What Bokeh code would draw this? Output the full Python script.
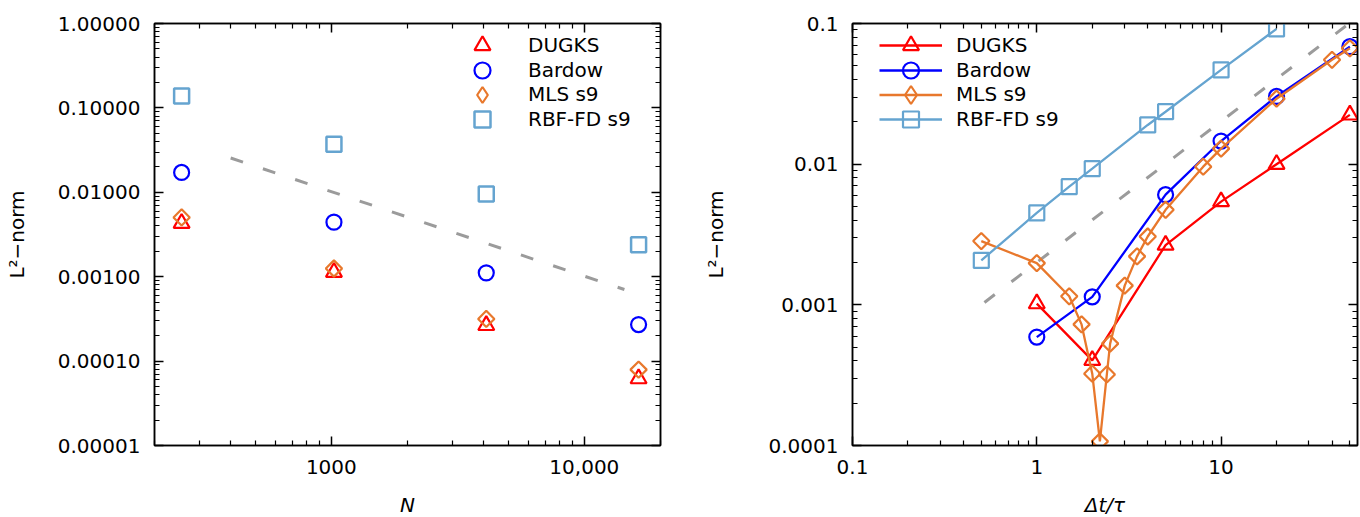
import numpy as np
from bokeh.plotting import figure
from bokeh.models import (FixedTicker, CustomJSTickFormatter, LogAxis, Legend,
                          LegendItem, Range1d)
from bokeh.layouts import row
from bokeh.embed import file_html
from bokeh.resources import INLINE

# ---------------- data: left panel (error vs N) ----------------
N = [256, 1024, 4096, 16384]
left_dugks = [0.0043, 0.00113, 0.000265, 0.000062]
left_bardow = [0.0172, 0.00443, 0.00111, 0.000271]
left_mls = [0.00504, 0.00125, 0.000316, 0.0000792]
left_rbf = [0.138, 0.037, 0.00955, 0.00239]
left_ref_x = [400, 14400]
left_ref_y = [0.0255, 0.000705]

# ---------------- data: right panel (error vs dt/tau) ----------------
dugks_dt = [1, 2, 5, 10, 20, 50]
dugks_err = [0.00102, 0.000403, 0.00266, 0.00542, 0.00998, 0.0224]
bardow_dt = [1, 2, 5, 10, 20, 50]
bardow_err = [0.00059, 0.00114, 0.00607, 0.0146, 0.0303, 0.0685]
mls_dt = [0.5, 1, 1.5, 1.75, 2, 2.2, 2.4, 2.5, 3, 3.5, 4, 5, 8, 10, 20, 40, 50]
mls_err = [0.00284, 0.00198, 0.00115, 0.000726, 0.000324, 0.000107, 0.00032,
           0.00053, 0.00137, 0.00221, 0.00306, 0.00474, 0.0096, 0.0129, 0.0292,
           0.0552, 0.0666]
rbf_dt = [0.5, 1, 1.5, 2, 4, 5, 10, 20]
rbf_err = [0.00207, 0.0045, 0.00692, 0.00929, 0.019, 0.0236, 0.0468, 0.0915]
right_ref_x = [0.52, 48]
right_ref_y = [0.00104, 0.097]

# ---------------- ticks ----------------
left_x_ticks = [1000, 10000]
left_x_labels = ["1000", "10,000"]
left_y_ticks = [1e-5, 1e-4, 1e-3, 1e-2, 1e-1, 1]
left_y_labels = ["0.00001", "0.00010", "0.00100", "0.01000", "0.10000", "1.00000"]
right_x_ticks = [0.1, 1, 10]
right_x_labels = ["0.1", "1", "10"]
right_y_ticks = [1e-4, 1e-3, 1e-2, 1e-1]
right_y_labels = ["0.0001", "0.001", "0.01", "0.1"]

series_names = ["DUGKS", "Bardow", "MLS s9", "RBF-FD s9"]
colors = ["#ff0000", "#0000ff", "#e8782c", "#65a4d0"]

FONT = "DejaVu Sans"
FRAME_H = 422
ROW_Y = [45, 69.5, 94, 118.5]   # legend row centres, px from figure top
TOP = 23


def minor_ticks(e0, e1):
    out = []
    for e in range(e0, e1 + 1):
        for m in range(2, 10):
            out.append(m * 10.0 ** e)
    return out


def fmt(tv, tl):
    return CustomJSTickFormatter(args=dict(tvals=tv, tlabels=tl), code="""
        for (let i = 0; i < tvals.length; i++) {
            if (Math.abs(Math.log10(tvals[i]) - Math.log10(tick)) < 1e-6) return tlabels[i];
        }
        return "";
    """)


def style_axis(ax, show_labels=True):
    ax.major_tick_in = 9
    ax.major_tick_out = 0
    ax.minor_tick_in = 5
    ax.minor_tick_out = 0
    ax.axis_line_width = 1.5
    ax.axis_line_color = "black"
    ax.major_tick_line_width = 1.5
    ax.major_tick_line_color = "black"
    ax.minor_tick_line_width = 1.2
    ax.minor_tick_line_color = "black"
    ax.major_label_text_font = FONT
    ax.major_label_text_color = "black"
    ax.axis_label_text_font = FONT
    ax.axis_label_text_color = "black"
    ax.axis_label_text_font_size = "20px"
    if show_labels:
        ax.major_label_text_font_size = "20px"
        ax.major_label_standoff = 14
    else:
        ax.major_label_text_font_size = "0px"
        ax.major_label_standoff = 0
        ax.formatter = CustomJSTickFormatter(code="return '';")


def make_fig(xr, yr, fw, min_left, min_right, xt, xl, yt, yl, xminor, yminor,
             xlabel, ylabel, ylab_standoff):
    p = figure(x_axis_type="log", y_axis_type="log", x_range=xr, y_range=yr,
               frame_width=fw, frame_height=FRAME_H,
               min_border_left=min_left, min_border_right=min_right,
               min_border_top=TOP, min_border_bottom=517 - TOP - FRAME_H,
               output_backend="svg", toolbar_location=None)
    p.grid.visible = False
    p.outline_line_color = "black"
    p.outline_line_width = 1.5
    p.background_fill_color = "white"
    p.border_fill_color = "white"
    bx = p.below[0]
    ly = p.left[0]
    bx.ticker = FixedTicker(ticks=xt, minor_ticks=xminor)
    ly.ticker = FixedTicker(ticks=yt, minor_ticks=yminor)
    bx.formatter = fmt(xt, xl)
    ly.formatter = fmt(yt, yl)
    style_axis(bx)
    style_axis(ly)
    bx.axis_label = xlabel
    bx.axis_label_text_font_style = "italic"
    bx.axis_label_standoff = 16
    ly.axis_label = ylabel
    ly.axis_label_text_font_style = "normal"
    ly.axis_label_standoff = ylab_standoff
    top = LogAxis(ticker=FixedTicker(ticks=xt, minor_ticks=xminor))
    right = LogAxis(ticker=FixedTicker(ticks=yt, minor_ticks=yminor))
    style_axis(top, False)
    style_axis(right, False)
    p.add_layout(top, "above")
    p.add_layout(right, "right")
    return p


def add_legend_row(p, label, renderers, x, yc, gw, gh, standoff):
    bottom = (TOP + FRAME_H) - (yc + gh / 2.0)
    leg = Legend(items=[LegendItem(label=label, renderers=renderers)],
                 location=(x, bottom), orientation="vertical",
                 glyph_width=gw, glyph_height=gh, label_height=20, spacing=0,
                 padding=0, margin=0, label_standoff=standoff,
                 border_line_color=None, background_fill_alpha=0,
                 inactive_fill_alpha=0,
                 label_text_font=FONT, label_text_font_size="20px",
                 label_text_color="black")
    p.add_layout(leg)


# ---------------- left panel ----------------
p1 = make_fig(Range1d(200, 20000), Range1d(1e-5, 1), 506, 154, 10,
              left_x_ticks, left_x_labels, left_y_ticks, left_y_labels,
              minor_ticks(2, 4), minor_ticks(-5, -1), "N", "L²−norm", 26)

p1.line(left_ref_x, left_ref_y, line_color="#9b9b9b", line_width=3,
        line_dash="13 21")
r_d = p1.scatter(N, left_dugks, marker="triangle", size=16, fill_color=None,
                 line_color=colors[0], line_width=2.2)
r_b = p1.scatter(N, left_bardow, marker="circle", size=15, fill_color=None,
                 line_color=colors[1], line_width=2.2)
r_m = p1.scatter(N, left_mls, marker="square", angle=np.pi / 4, size=11.5,
                 fill_color=None, line_color=colors[2], line_width=2.2)
r_m_leg = p1.scatter(N, left_mls, marker="diamond", size=18, fill_color=None,
                     line_color=colors[2], line_width=2.2, visible=False)
r_r = p1.scatter(N, left_rbf, marker="square", size=15, fill_color=None,
                 line_color=colors[3], line_width=2.5)

left_leg_renderers = [[r_d], [r_b], [r_m_leg], [r_r]]
for i in range(4):
    gh = 45 if i == 2 else 40
    add_legend_row(p1, series_names[i], left_leg_renderers[i], 328 - 20,
                   ROW_Y[i], 40, gh, 26)

# ---------------- right panel ----------------
p2 = make_fig(Range1d(0.1, 55), Range1d(1e-4, 0.1), 505, 182, 3,
              right_x_ticks, right_x_labels, right_y_ticks, right_y_labels,
              minor_ticks(-1, 1), minor_ticks(-4, -2), "Δt/τ", "L²−norm", 38)

p2.line(right_ref_x, right_ref_y, line_color="#9b9b9b", line_width=3,
        line_dash="13 21")
specs = [(dugks_dt, dugks_err, "triangle", 16, 0),
         (bardow_dt, bardow_err, "circle", 15, 0),
         (mls_dt, mls_err, "square", 11.5, np.pi / 4),
         (rbf_dt, rbf_err, "square", 15, 0)]
for i, (xs, ys, mk, sz, ang) in enumerate(specs):
    ln = p2.line(xs, ys, line_color=colors[i], line_width=2.3)
    sc = p2.scatter(xs, ys, marker=mk, size=sz, angle=ang, fill_color=None,
                    line_color=colors[i], line_width=2.2)
    rends = [ln, sc]
    gh = 40
    if i == 2:
        leg_sc = p2.scatter(xs, ys, marker="diamond", size=18, fill_color=None,
                            line_color=colors[i], line_width=2.2, visible=False)
        rends = [ln, leg_sc]
        gh = 45
    add_legend_row(p2, series_names[i], rends, 27, ROW_Y[i], 63, gh, 14)

layout = row(p1, p2)
open("out.html", "w").write(file_html(layout, INLINE))
